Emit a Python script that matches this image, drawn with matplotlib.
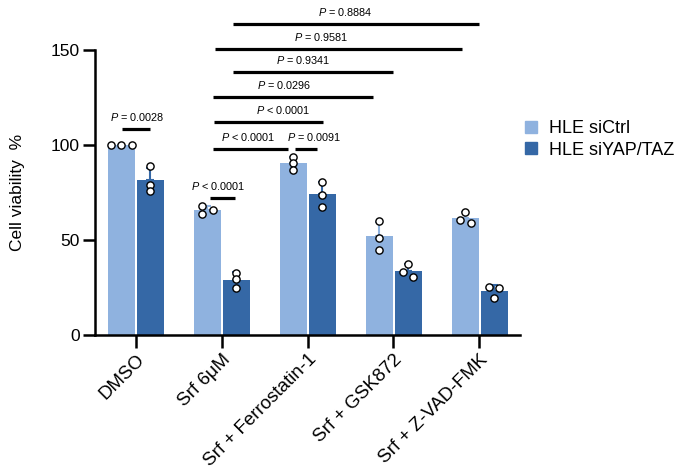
import numpy as np
import matplotlib
matplotlib.use("Agg")
import matplotlib.pyplot as plt
from matplotlib.lines import Line2D

plt.rcParams['font.family'] = ['Liberation Sans', 'DejaVu Sans']
plt.rcParams['mathtext.fontset'] = 'custom'
plt.rcParams['mathtext.it'] = 'Liberation Sans:italic'
plt.rcParams['mathtext.rm'] = 'Liberation Sans'

# ---- data ----
categories = ["DMSO", "Srf 6\u03bcM", "Srf + Ferrostatin-1", "Srf + GSK872", "Srf + Z-VAD-FMK"]
series_names = ["HLE siCtrl", "HLE siYAP/TAZ"]
siCtrl_points = [
    [100, 100, 100],
    [68, 66, 63.7],
    [93.8, 90.5, 86.8],
    [60, 51, 44.7],
    [65, 60.5, 59],
]
siYAP_points = [
    [89, 79, 76],
    [32.6, 29.5, 24.7],
    [80.7, 73.8, 67.5],
    [37.4, 33, 30.5],
    [25.4, 25, 19.6],
]
p_labels = ["= 0.0028", "< 0.0001", "< 0.0001", "= 0.0091", "< 0.0001",
            "= 0.0296", "= 0.9341", "= 0.9581", "= 0.8884"]

# annotation layout (x0, x1, y, text_x)
brackets = [
    (-0.157, 0.169, 108.4, 0.023),
    (0.866, 1.157, 72.1, 0.959),
    (0.901, 1.773, 97.9, 1.308),
    (1.855, 2.110, 97.9, 2.076),
    (0.913, 2.180, 112.1, 1.715),
    (0.901, 2.762, 125.3, 1.727),
    (1.134, 2.994, 138.4, 1.956),
    (0.924, 3.797, 150.5, 2.165),
    (1.134, 3.994, 163.7, 2.436),
]

colors = ["#8FB2DF", "#3568A6"]

fig = plt.figure(figsize=(6.85, 4.74), dpi=100)
ax_left, ax_right, ax_top, ax_bot = 95, 520, 50, 335
ax = fig.add_axes([ax_left/685, 1-ax_bot/474, (ax_right-ax_left)/685, (ax_bot-ax_top)/474])

x = np.arange(len(categories))
width = 0.315
offsets = [-0.165, 0.17]

px_per_x = 86.0
px_per_y = (ax_bot - ax_top) / 150.0
thr = 5.2      # px: overlap threshold
spacing = 10.5 # px: horizontal spread

def swarm(vals):
    vals = np.asarray(vals, float)
    order = np.argsort(-vals)
    offs = np.zeros(len(vals))
    clusters = [[order[0]]]
    for i in order[1:]:
        if abs(vals[clusters[-1][-1]] - vals[i]) * px_per_y < thr:
            clusters[-1].append(i)
        else:
            clusters.append([i])
    for c in clusters:
        n = len(c)
        if n == 1:
            continue
        span = (vals[c[0]] - vals[c[-1]]) * px_per_y
        if span < thr:
            pos = (np.arange(n) - (n - 1) / 2) * spacing
        else:
            pos = np.array([(-1) ** (k + 1) * spacing / 2 for k in range(n)])
        for k, i in enumerate(c):
            offs[i] = pos[k] / px_per_x
    return offs

for s, pts in enumerate([siCtrl_points, siYAP_points]):
    means = np.array([np.mean(p) for p in pts])
    sds = np.array([np.std(p, ddof=1) for p in pts])
    xs = x + offsets[s]
    ax.bar(xs, means, width=width, color=colors[s], zorder=1)
    ax.errorbar(xs, means, yerr=[np.zeros_like(sds), sds], fmt='none',
                ecolor=colors[s], elinewidth=1.5, capsize=3, capthick=1.5, zorder=2)
    for i, p in enumerate(pts):
        oo = swarm(p)
        ax.plot(xs[i] + oo, p, 'o', ms=5.2, mfc='white', mec='black', mew=1.0,
                zorder=3, clip_on=False)

for (x0, x1, y, tx), lab in zip(brackets, p_labels):
    ax.plot([x0, x1], [y, y], color='black', lw=2.3, solid_capstyle='butt',
            clip_on=False, zorder=4)
    ax.text(tx, y + 6.2, r"$\it{P}$ " + lab, ha='center', va='center',
            fontsize=7.8, clip_on=False)

ax.set_xlim((ax_left - 135.5) / px_per_x, (ax_right - 135.5) / px_per_x)
ax.set_ylim(0, 150)
ax.set_yticks([0, 50, 100, 150])
ax.set_xticks(x)
ax.set_xticklabels(categories, rotation=45, ha='right', rotation_mode='anchor',
                   fontsize=13.5)
ax.tick_params(axis='y', labelsize=12.5, width=1.8, length=9, pad=2)
ax.tick_params(axis='x', width=1.8, length=9, pad=2.5)
for sp in ['top', 'right']:
    ax.spines[sp].set_visible(False)
for sp in ['left', 'bottom']:
    ax.spines[sp].set_linewidth(1.8)
ax.set_ylabel("Cell viability  %", fontsize=12.5)
ax.yaxis.set_label_coords((25 - ax_left) / (ax_right - ax_left), 0.5)

handles = [Line2D([], [], marker='s', ls='none', color=c, ms=8) for c in colors]
fig.legend(handles, series_names, loc='upper left', bbox_to_anchor=(524/685, 1-120/474),
           frameon=False, fontsize=13, handlelength=0.8, handletextpad=0.6,
           labelspacing=0.25, borderaxespad=0, borderpad=0)

fig.savefig("out.png", dpi=100)
